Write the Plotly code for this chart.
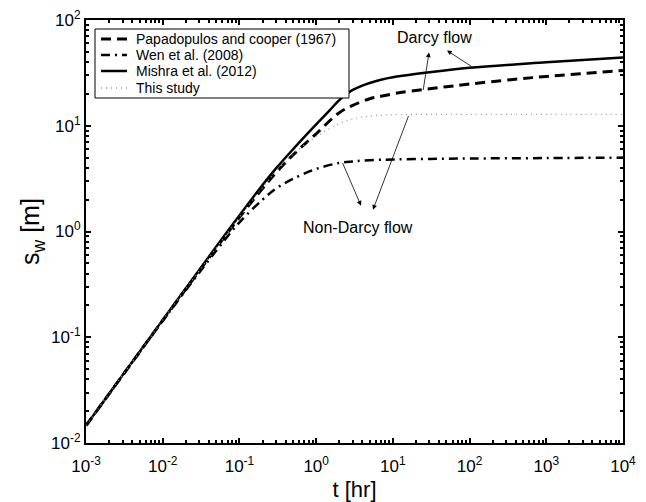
import plotly.graph_objects as go

# ---- data ----
t_pc = [0.001, 0.01, 0.05, 0.1, 0.2, 0.3, 0.5, 1, 2, 3, 5, 7, 12, 25, 50, 100, 370, 1000, 3000, 10000]
s_pc = [0.0146, 0.144, 0.70, 1.36, 2.55, 3.6, 5.3, 8.4, 13.3, 15.6, 18.0, 19.0, 20.5, 22.0, 23.4, 24.8, 27.4, 29.3, 31.2, 33.3]

t_wen = [0.001, 0.01, 0.05, 0.1, 0.2, 0.3, 0.5, 1, 2, 3, 5, 10, 30, 100, 1000, 10000]
s_wen = [0.0146, 0.143, 0.66, 1.22, 2.0, 2.55, 3.15, 3.9, 4.45, 4.6, 4.72, 4.8, 4.86, 4.9, 4.95, 5.0]

t_mi = [0.001, 0.01, 0.05, 0.1, 0.2, 0.3, 0.5, 1, 1.5, 2, 2.5, 3, 4, 5, 7, 10, 30, 100, 1000, 10000]
s_mi = [0.0146, 0.146, 0.72, 1.42, 2.75, 3.95, 6.0, 10.3, 14.0, 17.5, 20.0, 21.8, 24.0, 25.4, 27.2, 28.7, 32.0, 35.3, 39.8, 44.3]

t_ts = [0.001, 0.01, 0.05, 0.1, 0.2, 0.3, 0.5, 1, 1.5, 2, 3, 4, 6, 10, 30, 100, 1000, 10000]
s_ts = [0.0146, 0.145, 0.70, 1.37, 2.6, 3.7, 5.4, 7.9, 9.4, 10.5, 11.6, 12.1, 12.5, 12.7, 12.8, 12.8, 12.8, 12.8]

names = ["Papadopulos and cooper (1967)", "Wen et al. (2008)", "Mishra et al. (2012)", "This study"]

x_tickvals = [1e-3, 1e-2, 1e-1, 1e0, 1e1, 1e2, 1e3, 1e4]
x_ticktext = ["10<sup>-3</sup>", "10<sup>-2</sup>", "10<sup>-1</sup>", "10<sup>0</sup>",
              "10<sup>1</sup>", "10<sup>2</sup>", "10<sup>3</sup>", "10<sup>4</sup>"]
y_tickvals = [1e-2, 1e-1, 1e0, 1e1, 1e2]
y_ticktext = ["10<sup>-2</sup>", "10<sup>-1</sup>", "10<sup>0</sup>", "10<sup>1</sup>", "10<sup>2</sup>"]

# minor (log) tick positions: 2..9 within each decade
x_minor = [k * 10.0 ** e for e in range(-3, 4) for k in range(2, 10)]
y_minor = [k * 10.0 ** e for e in range(-2, 2) for k in range(2, 10)]

# ---- styles ----
FONT = "Arial, Liberation Sans, sans-serif"
styles = [
    dict(color="black", width=3, dash="10px,6px"),
    dict(color="black", width=2.5, dash="9px,5px,2px,5px"),
    dict(color="black", width=2.5, dash="solid"),
    dict(color="#9a9a9a", width=1.3, dash="1px,4px"),
]

# page geometry (the html body keeps an 8px default margin)
PAGE_W, PAGE_H, BODY = 646, 502, 8
ML, MR, MT, MB = 86, 23, 20, 59          # plot area edges in page pixels
PW, PH = PAGE_W - ML - MR, PAGE_H - MT - MB


def px_x(p):
    return (p - ML) / PW


def px_y(p):
    return (PAGE_H - MB - p) / PH


fig = go.Figure()
for tx, sy, nm, st in zip([t_pc, t_wen, t_mi, t_ts], [s_pc, s_wen, s_mi, s_ts], names, styles):
    fig.add_trace(go.Scatter(x=tx, y=sy, mode="lines", name=nm, line_shape="spline",
                             line=st, showlegend=False))

axis_common = dict(
    type="log", automargin=False, ticklabeloverflow="allow",
    showline=True, linecolor="black", linewidth=2, mirror="ticks",
    ticks="inside", ticklen=5, tickwidth=2, tickcolor="black",
    showgrid=False, zeroline=False,
    tickfont=dict(family=FONT, size=17, color="black"),
)

fig.update_xaxes(range=[-3.0002, 4.0002], tickvals=x_tickvals, ticktext=x_ticktext,
                 ticklabelstandoff=7,
                 minor=dict(tickvals=x_minor, ticks="inside", ticklen=3, tickwidth=1.5,
                            tickcolor="black", showgrid=False),
                 title=dict(text="t [hr]", font=dict(family=FONT, size=22, color="black"), standoff=6),
                 **axis_common)
fig.update_yaxes(range=[-2.0002, 2.0002], tickvals=y_tickvals, ticktext=y_ticktext,
                 minor=dict(tickvals=y_minor, ticks="inside", ticklen=3, tickwidth=1.5,
                            tickcolor="black", showgrid=False),
                 title=dict(text="s<sub>w</sub> [m]", font=dict(family=FONT, size=25, color="black"), standoff=4),
                 **axis_common)

ann_font = dict(family=FONT, size=16, color="black")
annotations = [
    dict(x=1.537, y=1.835, xref="x", yref="y", text="Darcy flow", showarrow=False, font=ann_font),
    dict(x=0.546, y=0.036, xref="x", yref="y", text="Non-Darcy flow", showarrow=False, font=ann_font),
]
arrows = [
    (1.471, 1.693, 1.393, 1.324),
    (1.706, 1.712, 2.045, 1.551),
    (0.585, 0.244, 0.337, 0.661),
    (0.741, 0.206, 1.211, 1.106),
]
for hx, hy, tx, ty in arrows:
    annotations.append(dict(x=hx, y=hy, ax=tx, ay=ty, xref="x", yref="y", axref="x", ayref="y",
                            text="", showarrow=True, arrowhead=2, arrowsize=1.2, arrowwidth=0.8,
                            arrowcolor="black"))

# ---- legend box drawn by hand (tight row spacing as in the reference) ----
shapes = [dict(type="rect", xref="paper", yref="paper",
               x0=px_x(95), x1=px_x(349), y0=px_y(98), y1=px_y(29),
               line=dict(color="black", width=1), fillcolor="white", layer="above")]
row_y = [39, 55, 71, 88]
for ry, nm, st in zip(row_y, names, styles):
    shapes.append(dict(type="line", xref="paper", yref="paper",
                       x0=px_x(101), x1=px_x(127), y0=px_y(ry), y1=px_y(ry),
                       line=dict(color=st["color"], width=st["width"], dash=st["dash"]), layer="above"))
    annotations.append(dict(x=px_x(134), y=px_y(ry), xref="paper", yref="paper",
                            xanchor="left", yanchor="middle", text=nm, showarrow=False,
                            font=dict(family=FONT, size=14, color="black")))

fig.update_layout(
    width=PAGE_W - BODY, height=PAGE_H - BODY,
    margin=dict(l=ML - BODY, r=MR, t=MT - BODY, b=MB),
    paper_bgcolor="white", plot_bgcolor="white",
    font=dict(family=FONT, color="black"),
    annotations=annotations,
    shapes=shapes,
    showlegend=False,
)

fig.write_html("out.html")
